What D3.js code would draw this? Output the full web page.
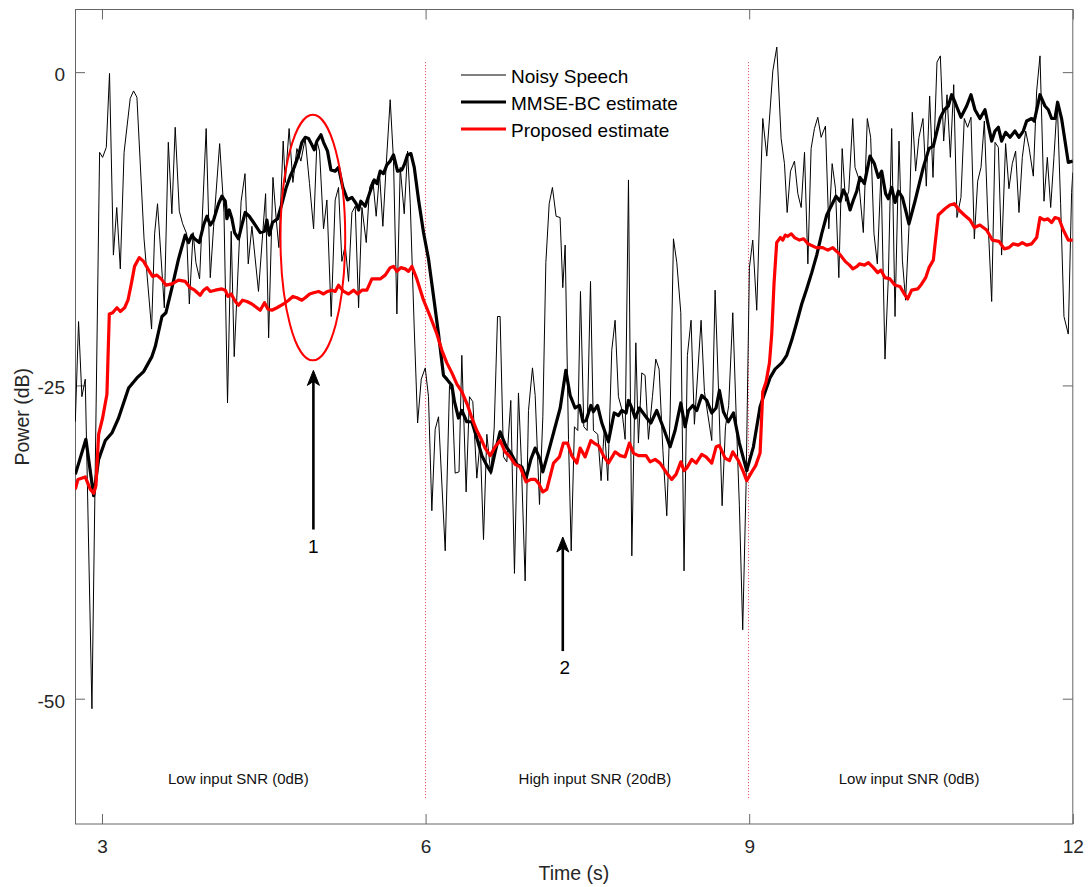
<!DOCTYPE html>
<html><head><meta charset="utf-8">
<script src="https://cdn.jsdelivr.net/npm/d3@7"></script>
<style>
body{margin:0;background:#fff}
svg{display:block}
text{font-family:"Liberation Sans",Arial,Helvetica,sans-serif}
</style>
</head><body>
<svg id="chart" width="1091" height="887"></svg>
<script>
// ---------- data ----------
const xTicks = [3, 6, 9, 12];
const yTicks = [0, -25, -50];
const xDomain = [2.75, 12];
const yDomain = [-60, 5];
const seriesNames = ["Noisy Speech", "MMSE-BC estimate", "Proposed estimate"];
const boundaries = [6, 9];
const regionLabels = ["Low input SNR (0dB)", "High input SNR (20dB)", "Low input SNR (0dB)"];
const regionLabelTime = [3.612, 6.862, 9.83];
const regionLabelDb = -56.8;
const highlightCenter = [4.955, -13.2];
const highlightRadius = [0.3, 9.8];
const arrowLabels = ["1", "2"];
const arrowTime = [4.96, 7.272];
const arrowFromDb = [-36.5, -46.2];
const arrowToDb = [-23.8, -37.1];
const arrowLabelTime = [4.96, 7.29];
const arrowLabelDb = [-38.4, -48.0];

// [time (s), power (dB)]
const noisy = [
[2.753,-27.9],[2.783,-19.9],[2.814,-25.9],[2.845,-24.5],[2.907,-50.8],[2.978,-6.4],[3.006,-6.8],[3.040,-6.0],[3.070,-0.1],[3.106,-14.6],[3.137,-10.8],[3.170,-15.7],[3.205,-6.4],[3.262,-2.1],[3.293,-1.5],[3.324,-2.0],[3.390,-13.3],[3.460,-20.5],[3.488,-12.9],[3.515,-10.5],[3.578,-18.8],[3.615,-5.6],[3.648,-11.3],[3.679,-4.4],[3.717,-11.1],[3.748,-12.1],[3.785,-12.9],[3.810,-18.5],[3.845,-12.8],[3.871,-15.2],[3.905,-16.5],[3.966,-4.5],[4.004,-16.4],[4.035,-12.3],[4.091,-5.7],[4.131,-11.2],[4.164,-26.4],[4.198,-12.7],[4.226,-22.7],[4.290,-10.3],[4.326,-8.1],[4.356,-15.3],[4.390,-12.3],[4.451,-17.5],[4.517,-9.7],[4.545,-21.2],[4.585,-8.4],[4.616,-11.8],[4.640,-14.0],[4.680,-5.5],[4.699,-8.8],[4.735,-4.5],[4.770,-8.8],[4.807,-6.1],[4.844,-7.1],[4.884,-5.3],[4.924,-8.9],[4.962,-12.5],[4.993,-5.5],[5.017,-6.3],[5.054,-12.5],[5.085,-10.2],[5.125,-19.5],[5.162,-10.2],[5.193,-9.2],[5.224,-15.1],[5.255,-13.8],[5.286,-16.7],[5.317,-11.2],[5.348,-10.7],[5.379,-18.8],[5.410,-10.8],[5.450,-13.6],[5.481,-9.2],[5.511,-8.6],[5.542,-11.5],[5.573,-8.1],[5.604,-12.3],[5.635,-7.4],[5.672,-2.2],[5.703,-7.1],[5.734,-19.3],[5.765,-7.6],[5.802,-11.3],[5.833,-6.3],[5.858,-10.5],[5.895,-20.5],[5.926,-28.0],[5.960,-24.5],[5.997,-23.6],[6.027,-25.9],[6.058,-35.0],[6.089,-28.5],[6.120,-27.5],[6.182,-38.2],[6.222,-25.0],[6.245,-25.5],[6.274,-32.0],[6.310,-31.9],[6.336,-22.6],[6.376,-33.5],[6.407,-25.9],[6.438,-26.3],[6.475,-32.4],[6.506,-29.4],[6.537,-37.3],[6.568,-28.9],[6.605,-32.1],[6.636,-28.4],[6.667,-19.5],[6.691,-19.5],[6.722,-30.7],[6.753,-31.1],[6.790,-26.2],[6.824,-40.0],[6.861,-25.6],[6.886,-30.7],[6.923,-40.6],[6.954,-27.0],[6.991,-23.6],[7.016,-25.8],[7.056,-34.5],[7.087,-27.5],[7.115,-15.2],[7.146,-10.5],[7.176,-9.2],[7.210,-11.5],[7.247,-11.6],[7.272,-17.2],[7.294,-13.8],[7.325,-29.3],[7.350,-38.2],[7.380,-28.3],[7.411,-28.6],[7.436,-17.5],[7.467,-28.3],[7.498,-28.6],[7.529,-16.7],[7.556,-28.6],[7.596,-28.9],[7.627,-32.6],[7.658,-28.3],[7.689,-32.6],[7.726,-22.2],[7.757,-19.8],[7.788,-25.9],[7.819,-26.9],[7.850,-29.3],[7.881,-8.6],[7.912,-38.6],[7.949,-21.6],[7.973,-29.6],[8.004,-24.0],[8.035,-24.2],[8.066,-29.3],[8.103,-25.9],[8.134,-22.9],[8.165,-23.7],[8.200,-30.2],[8.236,-35.4],[8.267,-27.3],[8.298,-13.3],[8.329,-15.2],[8.366,-19.2],[8.396,-39.8],[8.427,-22.6],[8.461,-19.8],[8.492,-28.1],[8.523,-24.0],[8.554,-19.8],[8.585,-25.5],[8.616,-27.3],[8.653,-29.4],[8.684,-17.4],[8.715,-25.2],[8.749,-34.6],[8.780,-28.3],[8.810,-26.6],[8.848,-19.2],[8.879,-27.3],[8.909,-34.6],[8.940,-44.5],[8.971,-33.0],[9.002,-15.6],[9.033,-13.4],[9.070,-19.0],[9.101,-10.2],[9.126,-3.7],[9.163,-6.7],[9.190,-3.5],[9.219,0.1],[9.256,2.0],[9.296,-5.3],[9.327,-7.3],[9.352,-11.2],[9.383,-7.9],[9.420,-7.1],[9.451,-9.7],[9.482,-10.8],[9.513,-6.4],[9.544,-15.3],[9.574,-6.1],[9.605,-4.5],[9.636,-3.6],[9.667,-5.2],[9.707,-4.3],[9.738,-12.5],[9.769,-7.3],[9.800,-9.3],[9.831,-16.4],[9.862,-6.1],[9.893,-10.3],[9.923,-9.5],[9.960,-3.7],[9.981,-7.6],[10.012,-8.4],[10.058,-12.8],[10.095,-3.7],[10.126,-5.2],[10.157,-12.9],[10.188,-15.3],[10.222,-7.9],[10.259,-22.9],[10.290,-16.4],[10.321,-4.5],[10.352,-19.5],[10.389,-5.5],[10.420,-15.0],[10.450,-18.2],[10.481,-12.4],[10.512,-3.2],[10.543,-7.9],[10.574,-5.2],[10.611,-3.7],[10.642,-9.1],[10.673,-1.9],[10.704,-8.4],[10.741,0.8],[10.772,1.3],[10.803,-5.5],[10.834,-1.8],[10.865,-6.8],[10.896,-1.0],[10.926,-11.6],[10.963,-10.0],[10.994,-3.7],[11.025,-4.4],[11.056,-3.6],[11.087,-13.3],[11.118,-8.7],[11.149,-7.6],[11.180,-3.9],[11.211,-11.3],[11.248,-18.3],[11.279,-5.6],[11.310,-6.0],[11.340,-14.6],[11.377,-5.7],[11.408,-9.3],[11.439,-7.3],[11.470,-6.3],[11.501,-11.2],[11.532,-6.8],[11.563,-4.7],[11.594,-6.0],[11.634,-8.3],[11.665,-1.5],[11.696,1.3],[11.733,-10.3],[11.764,-6.8],[11.795,-10.8],[11.825,-6.8],[11.856,-2.4],[11.887,-10.5],[11.918,-19.5],[11.958,-20.9],[11.989,-9.6],[12.0,-8.0]
];

const mmse = [
[2.753,-32.1],[2.851,-29.3],[2.923,-33.8],[2.969,-30.9],[3.031,-29.4],[3.092,-28.8],[3.154,-27.6],[3.247,-25.2],[3.324,-24.4],[3.386,-23.9],[3.463,-22.7],[3.494,-21.9],[3.556,-19.5],[3.593,-19.2],[3.649,-17.2],[3.710,-14.9],[3.772,-13.0],[3.803,-13.6],[3.834,-13.0],[3.859,-13.3],[3.902,-13.6],[3.942,-12.2],[3.973,-11.5],[4.004,-12.2],[4.035,-11.8],[4.081,-10.5],[4.112,-9.9],[4.143,-10.3],[4.158,-11.7],[4.180,-11.0],[4.205,-11.7],[4.229,-12.8],[4.266,-13.3],[4.297,-12.2],[4.328,-11.2],[4.365,-11.5],[4.405,-12.0],[4.467,-12.8],[4.507,-12.7],[4.529,-11.8],[4.551,-13.0],[4.581,-12.0],[4.628,-11.7],[4.668,-10.5],[4.708,-9.2],[4.745,-8.3],[4.782,-7.6],[4.823,-6.6],[4.853,-5.6],[4.884,-5.2],[4.915,-5.3],[4.946,-5.8],[4.968,-6.2],[4.993,-5.5],[5.030,-5.0],[5.054,-5.6],[5.091,-6.3],[5.122,-7.8],[5.162,-7.9],[5.193,-7.6],[5.233,-9.2],[5.277,-10.2],[5.317,-10.0],[5.357,-10.5],[5.379,-11.0],[5.400,-10.3],[5.440,-10.7],[5.487,-9.5],[5.524,-8.6],[5.549,-8.9],[5.579,-7.9],[5.610,-8.1],[5.641,-7.4],[5.672,-7.1],[5.703,-6.6],[5.740,-7.9],[5.780,-7.8],[5.802,-7.4],[5.833,-6.6],[5.864,-6.5],[5.895,-7.6],[5.935,-10.2],[5.981,-12.8],[6.027,-14.9],[6.074,-17.9],[6.120,-20.9],[6.166,-24.2],[6.197,-24.5],[6.244,-25.0],[6.268,-26.3],[6.305,-27.6],[6.336,-27.0],[6.382,-27.9],[6.429,-27.9],[6.475,-29.2],[6.522,-30.6],[6.562,-31.3],[6.605,-31.9],[6.645,-30.3],[6.691,-28.7],[6.747,-29.9],[6.790,-30.4],[6.846,-31.3],[6.892,-31.5],[6.932,-32.4],[6.976,-30.9],[7.016,-30.0],[7.062,-30.9],[7.087,-31.9],[7.139,-30.3],[7.192,-28.6],[7.248,-26.8],[7.300,-23.8],[7.340,-25.8],[7.386,-26.8],[7.427,-26.6],[7.458,-27.9],[7.488,-27.8],[7.532,-26.6],[7.556,-27.1],[7.594,-26.6],[7.634,-28.0],[7.695,-29.5],[7.748,-27.2],[7.788,-27.4],[7.819,-27.0],[7.859,-27.2],[7.881,-26.2],[7.912,-26.8],[7.943,-27.6],[7.983,-26.8],[8.051,-27.6],[8.088,-28.0],[8.143,-27.0],[8.205,-28.4],[8.267,-29.9],[8.313,-28.6],[8.366,-26.4],[8.406,-28.3],[8.437,-27.0],[8.477,-26.6],[8.514,-27.0],[8.560,-25.8],[8.607,-26.2],[8.653,-27.2],[8.693,-26.8],[8.724,-25.4],[8.761,-27.1],[8.807,-27.9],[8.854,-27.2],[8.909,-29.6],[8.977,-31.8],[9.039,-29.9],[9.101,-26.7],[9.132,-25.9],[9.193,-24.4],[9.240,-23.7],[9.302,-23.2],[9.348,-22.6],[9.394,-21.4],[9.440,-20.0],[9.487,-18.5],[9.533,-17.3],[9.580,-16.0],[9.626,-14.6],[9.672,-12.9],[9.719,-11.4],[9.765,-10.6],[9.805,-9.9],[9.842,-10.3],[9.873,-9.4],[9.904,-9.9],[9.935,-11.0],[9.966,-10.2],[9.997,-9.5],[10.027,-8.4],[10.068,-8.9],[10.120,-6.7],[10.160,-7.3],[10.197,-8.4],[10.228,-7.9],[10.265,-9.7],[10.290,-10.1],[10.321,-9.2],[10.352,-10.4],[10.383,-9.5],[10.420,-10.0],[10.450,-11.0],[10.481,-12.1],[10.537,-10.3],[10.614,-7.6],[10.667,-6.1],[10.707,-5.9],[10.769,-3.7],[10.809,-3.0],[10.846,-2.7],[10.877,-1.8],[10.908,-2.4],[10.963,-3.6],[11.016,-2.7],[11.056,-1.8],[11.093,-3.0],[11.139,-3.7],[11.186,-3.0],[11.248,-5.5],[11.279,-4.7],[11.310,-4.4],[11.340,-5.5],[11.377,-4.8],[11.418,-5.2],[11.464,-4.7],[11.501,-5.2],[11.541,-4.7],[11.572,-3.9],[11.619,-3.7],[11.643,-3.9],[11.696,-1.8],[11.742,-2.7],[11.773,-3.0],[11.804,-3.7],[11.835,-3.7],[11.859,-2.4],[11.896,-3.7],[11.958,-7.2],[12.0,-7.1]
];

const proposed = [
[2.753,-33.3],[2.777,-32.5],[2.845,-32.3],[2.892,-33.3],[2.923,-33.6],[2.944,-33.0],[2.969,-28.9],[3.006,-27.6],[3.046,-25.7],[3.068,-19.3],[3.099,-19.2],[3.139,-18.8],[3.170,-19.1],[3.210,-18.8],[3.241,-18.2],[3.272,-16.9],[3.302,-15.5],[3.346,-14.8],[3.386,-15.1],[3.426,-15.7],[3.469,-16.3],[3.509,-16.2],[3.550,-16.5],[3.593,-17.0],[3.649,-16.9],[3.710,-16.6],[3.772,-16.7],[3.818,-17.2],[3.859,-17.4],[3.911,-17.8],[3.942,-17.4],[3.973,-17.2],[4.004,-17.5],[4.050,-17.4],[4.112,-17.3],[4.143,-17.4],[4.168,-17.9],[4.198,-17.7],[4.236,-18.3],[4.266,-18.6],[4.303,-18.2],[4.344,-18.3],[4.390,-18.5],[4.436,-18.8],[4.467,-19.0],[4.507,-18.4],[4.538,-18.9],[4.575,-19.0],[4.622,-18.8],[4.684,-18.5],[4.730,-18.2],[4.770,-17.9],[4.807,-18.0],[4.853,-18.2],[4.884,-18.0],[4.925,-17.7],[4.962,-17.6],[5.008,-17.5],[5.054,-17.7],[5.091,-17.5],[5.131,-17.4],[5.162,-17.5],[5.193,-17.0],[5.240,-17.5],[5.286,-17.7],[5.332,-17.4],[5.369,-17.7],[5.410,-17.4],[5.456,-17.4],[5.502,-16.5],[5.579,-16.5],[5.626,-16.2],[5.672,-15.6],[5.703,-15.5],[5.734,-15.9],[5.771,-15.6],[5.811,-15.7],[5.842,-15.9],[5.873,-15.5],[5.919,-16.5],[5.981,-18.2],[6.043,-19.5],[6.105,-20.9],[6.151,-22.2],[6.197,-23.2],[6.244,-24.0],[6.290,-24.9],[6.336,-25.5],[6.390,-26.6],[6.429,-27.6],[6.475,-28.6],[6.522,-29.4],[6.552,-30.0],[6.599,-30.6],[6.645,-29.9],[6.691,-29.4],[6.737,-30.3],[6.783,-30.7],[6.830,-31.3],[6.876,-31.5],[6.932,-32.7],[6.976,-32.5],[7.016,-32.5],[7.047,-32.8],[7.087,-33.5],[7.124,-33.3],[7.186,-31.2],[7.241,-30.7],[7.278,-29.6],[7.315,-29.6],[7.355,-30.6],[7.402,-31.2],[7.433,-30.0],[7.479,-30.7],[7.532,-29.4],[7.562,-29.6],[7.603,-29.8],[7.649,-30.6],[7.695,-31.2],[7.757,-30.3],[7.804,-30.6],[7.850,-30.7],[7.890,-29.6],[7.927,-30.4],[7.973,-30.6],[8.044,-30.6],[8.082,-31.1],[8.128,-30.9],[8.174,-31.2],[8.236,-32.0],[8.282,-32.5],[8.322,-32.1],[8.366,-31.1],[8.396,-31.8],[8.421,-31.6],[8.468,-30.9],[8.508,-31.2],[8.560,-30.5],[8.600,-30.7],[8.653,-31.2],[8.693,-29.9],[8.724,-29.8],[8.777,-30.8],[8.817,-31.0],[8.848,-30.3],[8.900,-31.0],[8.946,-31.9],[8.977,-32.6],[9.024,-31.9],[9.060,-31.4],[9.101,-30.4],[9.126,-25.5],[9.157,-24.7],[9.188,-23.2],[9.209,-20.9],[9.230,-16.9],[9.255,-13.6],[9.290,-13.2],[9.312,-13.4],[9.335,-13.0],[9.358,-13.1],[9.390,-12.9],[9.420,-13.2],[9.466,-13.4],[9.505,-13.3],[9.544,-13.7],[9.621,-14.0],[9.680,-14.0],[9.729,-14.2],[9.775,-14.0],[9.810,-14.3],[9.837,-14.5],[9.890,-15.1],[9.930,-15.4],[9.961,-15.7],[10.000,-15.5],[10.022,-15.3],[10.069,-15.4],[10.105,-15.2],[10.151,-15.6],[10.191,-16.0],[10.222,-15.8],[10.259,-16.4],[10.305,-16.5],[10.352,-17.0],[10.398,-17.1],[10.438,-17.7],[10.469,-18.1],[10.506,-17.4],[10.562,-17.3],[10.599,-16.9],[10.636,-16.4],[10.667,-15.6],[10.707,-15.0],[10.753,-11.4],[10.815,-10.9],[10.861,-10.6],[10.902,-10.5],[10.945,-11.0],[10.994,-11.4],[11.047,-11.8],[11.087,-12.4],[11.139,-12.2],[11.201,-12.6],[11.254,-13.4],[11.316,-13.5],[11.365,-14.1],[11.408,-14.0],[11.448,-13.7],[11.495,-13.8],[11.532,-13.6],[11.572,-13.8],[11.619,-13.7],[11.665,-13.2],[11.696,-11.6],[11.736,-11.8],[11.767,-11.7],[11.804,-12.0],[11.835,-11.6],[11.872,-11.7],[11.912,-12.6],[11.958,-13.4],[12.0,-13.4]
];

// ---------- layout ----------
const W = 1091, H = 887;
const margin = {left: 75, right: 18.2, top: 9.5, bottom: 63};
const svg = d3.select("#chart");
const x = d3.scaleLinear().domain(xDomain).range([margin.left, W - margin.right]);
const y = d3.scaleLinear().domain(yDomain).range([H - margin.bottom, margin.top]);
const FONT = '"Liberation Sans",Arial,Helvetica,sans-serif';
const axisColor = "#666";
const textColor = "#262626";
const plainNum = d => String(d);

svg.append("rect").attr("width", W).attr("height", H).attr("fill", "#fff");

svg.append("defs").append("clipPath").attr("id", "plotclip")
  .append("rect")
  .attr("x", margin.left).attr("y", margin.top)
  .attr("width", W - margin.left - margin.right)
  .attr("height", H - margin.top - margin.bottom);

// axes
function styleAxis(g) {
  g.select(".domain").remove();
  g.selectAll(".tick line").attr("stroke", axisColor).attr("stroke-width", 1);
  g.selectAll(".tick text").attr("fill", textColor)
    .style("font-family", FONT).style("font-size", "19px");
}
svg.append("g").attr("transform", `translate(0,${H - margin.bottom})`)
  .call(d3.axisBottom(x).tickValues(xTicks).tickSizeInner(-10).tickSizeOuter(0).tickPadding(16).tickFormat(plainNum))
  .call(styleAxis);
svg.append("g").attr("transform", `translate(0,${margin.top})`)
  .call(d3.axisTop(x).tickValues(xTicks).tickSizeInner(-10).tickSizeOuter(0).tickFormat(""))
  .call(styleAxis);
const gy = svg.append("g").attr("transform", `translate(${margin.left},0)`)
  .call(d3.axisLeft(y).tickValues(yTicks).tickSizeInner(-10).tickSizeOuter(0).tickPadding(10).tickFormat(plainNum))
  .call(styleAxis);
gy.selectAll(".tick text").attr("dy", "0.45em");
svg.append("g").attr("transform", `translate(${W - margin.right},0)`)
  .call(d3.axisRight(y).tickValues(yTicks).tickSizeInner(-10).tickSizeOuter(0).tickFormat(""))
  .call(styleAxis);

// box
svg.append("rect")
  .attr("x", margin.left + 0.5).attr("y", margin.top)
  .attr("width", W - margin.left - margin.right - 0.5)
  .attr("height", H - margin.top - margin.bottom)
  .attr("fill", "none").attr("stroke", axisColor).attr("stroke-width", 1);

// axis titles
svg.append("text")
  .attr("transform", `translate(29,${(margin.top + H - margin.bottom) / 2}) rotate(-90)`)
  .attr("text-anchor", "middle").attr("fill", textColor)
  .style("font-size", "19.5px").text("Power (dB)");
svg.append("text")
  .attr("x", (margin.left + W - margin.right) / 2).attr("y", 880)
  .attr("text-anchor", "middle").attr("fill", textColor)
  .style("font-size", "19.5px").text("Time (s)");

const plot = svg.append("g").attr("clip-path", "url(#plotclip)");

// region boundaries
plot.selectAll(".bound").data(boundaries).enter().append("line")
  .attr("x1", d => Math.round(x(d)) - 0.5).attr("x2", d => Math.round(x(d)) - 0.5)
  .attr("y1", y(0.8)).attr("y2", y(-58))
  .attr("stroke", "#e8404f").attr("stroke-width", 1)
  .attr("stroke-dasharray", "1,2");

// series
const line = d3.line().x(d => x(d[0])).y(d => y(d[1]));
plot.append("path").datum(noisy).attr("d", line)
  .attr("fill", "none").attr("stroke", "#000").attr("stroke-width", 1)
  .attr("stroke-linejoin", "round");
plot.append("path").datum(mmse).attr("d", line)
  .attr("fill", "none").attr("stroke", "#000").attr("stroke-width", 3.2)
  .attr("stroke-linejoin", "round");
plot.append("path").datum(proposed).attr("d", line)
  .attr("fill", "none").attr("stroke", "#ff0000").attr("stroke-width", 3.2)
  .attr("stroke-linejoin", "round");

// region labels
svg.selectAll(".reg").data(regionLabels).enter().append("text")
  .attr("x", (d, i) => x(regionLabelTime[i])).attr("y", y(regionLabelDb))
  .attr("fill", "#111").style("font-size", "15px").text(d => d);

// highlight ellipse
svg.append("ellipse")
  .attr("cx", x(highlightCenter[0])).attr("cy", y(highlightCenter[1]))
  .attr("rx", x(highlightCenter[0] + highlightRadius[0]) - x(highlightCenter[0]))
  .attr("ry", y(highlightCenter[1] - highlightRadius[1]) - y(highlightCenter[1]))
  .attr("fill", "none").attr("stroke", "#ff0000").attr("stroke-width", 2);

// arrows
arrowLabels.forEach((lab, i) => {
  const ax = x(arrowTime[i]);
  const y0 = y(arrowFromDb[i]), y1 = y(arrowToDb[i]);
  svg.append("line").attr("x1", ax).attr("x2", ax).attr("y1", y0).attr("y2", y1 + 10)
    .attr("stroke", "#000").attr("stroke-width", 2.6);
  svg.append("path")
    .attr("d", `M${ax},${y1} L${ax - 6},${y1 + 15} L${ax},${y1 + 11} L${ax + 6},${y1 + 15} Z`)
    .attr("fill", "#000").attr("stroke", "#000").attr("stroke-width", 1).attr("stroke-linejoin", "miter");
  svg.append("text").attr("x", x(arrowLabelTime[i])).attr("y", y(arrowLabelDb[i]))
    .attr("text-anchor", "middle").attr("fill", "#000").style("font-size", "19px").text(lab);
});

// legend
const legX = 461, legY = 75, legStep = 27, legLen = 45;
const legStroke = [{c: "#000", w: 1}, {c: "#000", w: 3.2}, {c: "#ff0000", w: 3.2}];
seriesNames.forEach((name, i) => {
  const ly = legY + i * legStep;
  svg.append("line").attr("x1", legX).attr("x2", legX + legLen).attr("y1", ly).attr("y2", ly)
    .attr("stroke", legStroke[i].c).attr("stroke-width", legStroke[i].w);
  svg.append("text").attr("x", legX + legLen + 5).attr("y", ly + 7.5)
    .attr("fill", "#000").style("font-size", "19px").text(name);
});
</script>
</body></html>
